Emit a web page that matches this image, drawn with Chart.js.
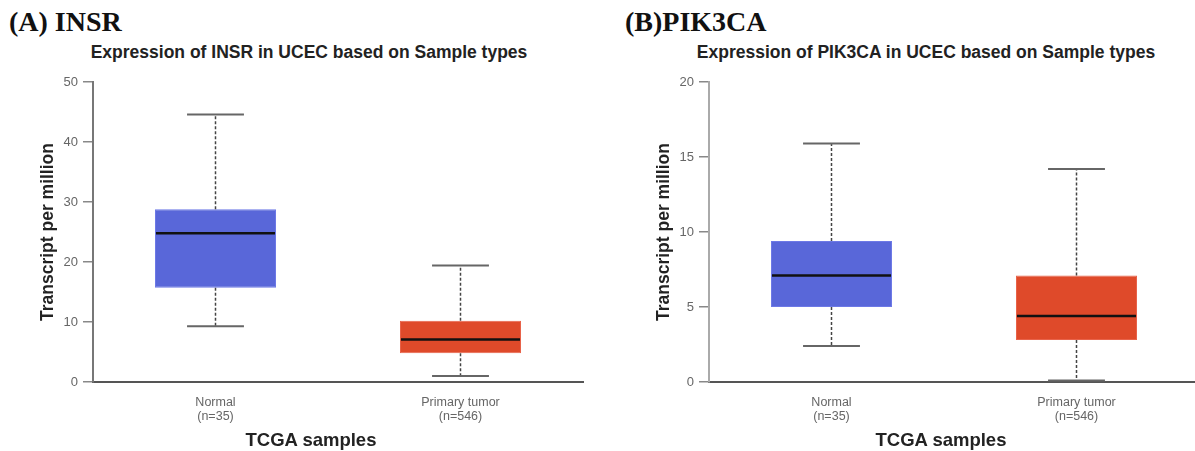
<!DOCTYPE html>
<html>
<head>
<meta charset="utf-8">
<script src="https://cdn.jsdelivr.net/npm/chart.js@4.4.1/dist/chart.umd.min.js"></script>
<style>
  body { margin: 0; background: #fff; }
  #page { position: relative; width: 1195px; height: 451px; overflow: hidden; background: #fff; }
  .panel { position: absolute; top: 0; }
  .head { position: absolute; font-family: "Liberation Serif", serif; font-weight: bold; font-size: 28px; line-height: 28px; color: #111; white-space: nowrap; }
  .ttl { position: absolute; font-family: "Liberation Sans", Arial, sans-serif; font-weight: bold; font-size: 17.5px; line-height: 18px; color: #222; white-space: nowrap; transform: translateX(-50%); }
  .xt { position: absolute; font-family: "Liberation Sans", Arial, sans-serif; font-weight: bold; font-size: 18.5px; line-height: 19px; color: #222; white-space: nowrap; transform: translateX(-50%); }
</style>
</head>
<body>
<div id="page">
  <div class="head" style="left:9px; top:8px;">(A) INSR</div>
  <div class="head" style="left:625px; top:8px;">(B)PIK3CA</div>
  <div class="ttl" style="left:309px; top:43px;">Expression of INSR in UCEC based on Sample types</div>
  <div class="ttl" style="left:926px; top:43px;">Expression of PIK3CA in UCEC based on Sample types</div>
  <canvas id="chartA" class="panel" style="left:0px;" width="600" height="451"></canvas>
  <canvas id="chartB" class="panel" style="left:616px;" width="590" height="451"></canvas>
  <div class="xt" style="left:311px; top:430px;">TCGA samples</div>
  <div class="xt" style="left:941px; top:430px;">TCGA samples</div>
</div>
<script>
// sample groups
const categories = [["Normal", "(n=35)"], ["Primary tumor", "(n=546)"]];
const boxColors = ["#5967d9", "#df4a2a"];
const boxBorders = ["#6d79e6", "#e8634a"];

// INSR (TPM)
const insrMin = [9.3, 1.0];
const insrQ1 = [15.7, 4.8];
const insrMedian = [24.8, 7.1];
const insrQ3 = [28.8, 10.2];
const insrMax = [44.6, 19.4];
const insrTicks = { max: 50, step: 10 };

// PIK3CA (TPM)
const pikMin = [2.4, 0.1];
const pikQ1 = [5.0, 2.8];
const pikMedian = [7.1, 4.4];
const pikQ3 = [9.4, 7.1];
const pikMax = [15.9, 14.2];
const pikTicks = { max: 20, step: 5 };

// whiskers + median line, drawn from the bar elements and the y scale
const boxWhiskers = {
  id: "boxWhiskers",
  afterDatasetsDraw(chart) {
    const ctx = chart.ctx;
    const y = chart.scales.y;
    const ds = chart.data.datasets[0];
    chart.getDatasetMeta(0).data.forEach((bar, i) => {
      const x = bar.x;
      const half = bar.width / 2;
      const cap = bar.width * 0.235;
      const yMin = y.getPixelForValue(ds.whiskerMin[i]);
      const yMax = y.getPixelForValue(ds.whiskerMax[i]);
      const yQ1 = y.getPixelForValue(ds.data[i][0]);
      const yQ3 = y.getPixelForValue(ds.data[i][1]);
      const yMed = y.getPixelForValue(ds.median[i]);
      ctx.save();
      // dashed stems
      ctx.strokeStyle = "#444";
      ctx.lineWidth = 1.5;
      ctx.setLineDash([3, 2]);
      ctx.beginPath();
      ctx.moveTo(x, yQ3); ctx.lineTo(x, yMax);
      ctx.moveTo(x, yQ1); ctx.lineTo(x, yMin);
      ctx.stroke();
      // caps
      ctx.setLineDash([]);
      ctx.strokeStyle = "#666";
      ctx.lineWidth = 2;
      ctx.beginPath();
      ctx.moveTo(x - cap, yMax); ctx.lineTo(x + cap, yMax);
      ctx.moveTo(x - cap, yMin); ctx.lineTo(x + cap, yMin);
      ctx.stroke();
      // median
      ctx.strokeStyle = "#111";
      ctx.lineWidth = 2.5;
      ctx.beginPath();
      ctx.moveTo(x - half + 1, yMed); ctx.lineTo(x + half - 1, yMed);
      ctx.stroke();
      ctx.restore();
    });
  }
};

function makeBox(id, q1, q3, med, lo, hi, ticks, yAxisColor, rightPad) {
  return new Chart(document.getElementById(id), {
    type: "bar",
    data: {
      labels: categories,
      datasets: [{
        data: q1.map((v, i) => [v, q3[i]]),
        median: med,
        whiskerMin: lo,
        whiskerMax: hi,
        backgroundColor: boxColors,
        borderColor: boxBorders,
        borderWidth: 1,
        borderSkipped: false,
        categoryPercentage: 1,
        barPercentage: 0.494
      }]
    },
    options: {
      responsive: false,
      devicePixelRatio: 1,
      animation: false,
      layout: { padding: { top: 82, left: 0, right: rightPad, bottom: 0 } },
      plugins: { legend: { display: false }, tooltip: { enabled: false }, title: { display: false } },
      scales: {
        x: {
          grid: { display: false, drawTicks: false },
          border: { display: true, color: "#555", width: 2 },
          ticks: {
            color: "#666",
            padding: 14,
            font: { family: "'Liberation Sans', Arial, sans-serif", size: 12.5, lineHeight: 1.12 }
          },
          afterFit(s) { s.height = 69; }
        },
        y: {
          min: 0,
          max: ticks.max,
          grid: { display: true, drawOnChartArea: false, drawTicks: true, tickLength: 10, color: "#888", lineWidth: 1.5 },
          border: { display: true, color: yAxisColor, width: 2 },
          ticks: {
            stepSize: ticks.step,
            color: "#666",
            padding: 5,
            font: { family: "'Liberation Sans', Arial, sans-serif", size: 13 }
          },
          title: {
            display: true,
            text: "Transcript per million",
            color: "#222",
            padding: { top: 38, bottom: 0 },
            font: { family: "'Liberation Sans', Arial, sans-serif", size: 17.5, weight: "bold" }
          },
          afterFit(s) { s.width = 93; }
        }
      }
    },
    plugins: [boxWhiskers]
  });
}

makeBox("chartA", insrQ1, insrQ3, insrMedian, insrMin, insrMax, insrTicks, "#777", 17);
makeBox("chartB", pikQ1, pikQ3, pikMedian, pikMin, pikMax, pikTicks, "#aaa", 7);
</script>
</body>
</html>
